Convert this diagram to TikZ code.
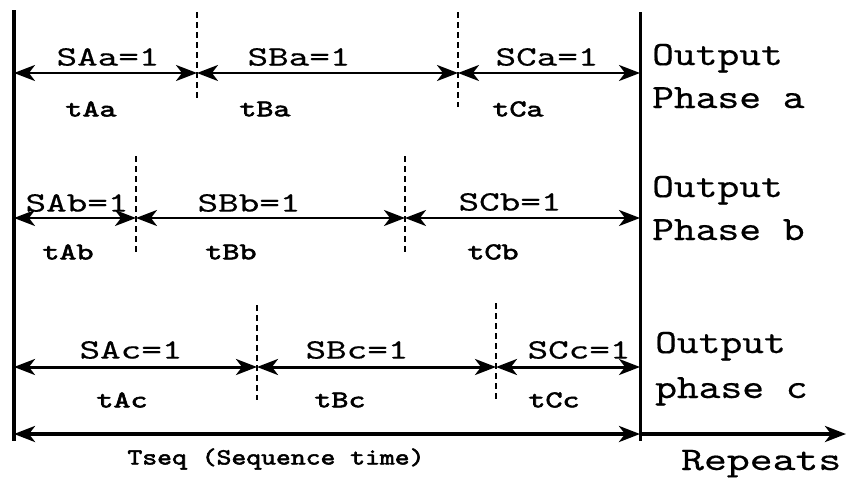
\documentclass[tikz,border=0pt]{standalone}
\usepackage{graphicx}
\usepackage{fontspec}
\newfontfamily\typefont[FakeBold=0.4]{lmmono10-regular.otf}
\newfontfamily\heavyfont[FakeBold=2.2]{lmmono10-regular.otf}
\usetikzlibrary{arrows.meta}
\newcommand\hs[2]{\scalebox{#1}[1]{#2}}
\newcommand\lab[1]{\hs{1.4}{#1}}
\newcommand\olab[1]{\hs{1.22}{#1}}
\newcommand\tlab[1]{\hs{1.35}{#1}}
\begin{document}
\begin{tikzpicture}[x=1pt,y=-1pt,
  labnode/.style={font=\fontsize{28}{28}\typefont, inner sep=0pt},
  tl/.style={font=\fontsize{24}{24}\heavyfont, inner sep=0pt},
  outlab/.style={font=\fontsize{34}{34}\typefont, inner sep=0pt, anchor=base west},
  dimarr/.style={line width=2.5pt, {Stealth[length=21pt,width=16pt,inset=6pt]}-{Stealth[length=21pt,width=16pt,inset=6pt]}},
  dashsep/.style={line width=1.6pt, dash pattern=on 6pt off 4pt},
  vbar/.style={line width=3.5pt}]
\fill[white] (0,0) rectangle (846,479);
\useasboundingbox (0,0) rectangle (846,479);

% vertical bars
\coordinate (Ltop) at (14,10);
\coordinate (Lbot) at (14,441);
\coordinate (Rtop) at (640,12);
\coordinate (Rbot) at (640,441);
\draw[vbar] (Ltop) -- (Lbot);
\draw[line width=3pt] (Rtop) -- (Rbot);

% row a
\coordinate (a0) at (14,73);
\coordinate (a1) at (197,73);
\coordinate (a2) at (458,73);
\coordinate (a3) at (640,73);
\coordinate (da1t) at (197,12); \coordinate (da1b) at (197,100);
\coordinate (da2t) at (458,12); \coordinate (da2b) at (458,107);
\draw[dashsep] (da1t) -- (da1b);
\draw[dashsep] (da2t) -- (da2b);
\draw[dimarr] (a0) -- (a1);
\draw[dimarr] (a1) -- (a2);
\draw[dimarr] (a2) -- (a3);
\node[labnode] (SAa) at (108,57) {\lab{SAa=1}};
\node[labnode] (SBa) at (299,57) {\lab{SBa=1}};
\node[labnode] (SCa) at (547,57) {\lab{SCa=1}};
\node[tl] (tAa) at (91,109) {\tlab{tAa}};
\node[tl] (tBa) at (265,109) {\tlab{tBa}};
\node[tl] (tCa) at (518,109) {\tlab{tCa}};
\node[outlab] (oa1) at (652,65) {\olab{Output}};
\node[outlab] (oa2) at (652,108) {\olab{Phase a}};

% row b
\coordinate (b0) at (14,218);
\coordinate (b1) at (136,218);
\coordinate (b2) at (405,218);
\coordinate (b3) at (640,218);
\coordinate (db1t) at (136,156); \coordinate (db1b) at (136,254);
\coordinate (db2t) at (405,156); \coordinate (db2b) at (405,254);
\draw[dashsep] (db1t) -- (db1b);
\draw[dashsep] (db2t) -- (db2b);
\draw[dimarr] (b0) -- (b1);
\draw[dimarr] (b1) -- (b2);
\draw[dimarr] (b2) -- (b3);
\node[labnode] (SAb) at (77,203) {\lab{SAb=1}};
\node[labnode] (SBb) at (249,203) {\lab{SBb=1}};
\node[labnode] (SCb) at (510,202) {\lab{SCb=1}};
\node[tl] (tAb) at (68,252) {\tlab{tAb}};
\node[tl] (tBb) at (231,252) {\tlab{tBb}};
\node[tl] (tCb) at (493,252) {\tlab{tCb}};
\node[outlab] (ob1) at (652,197) {\olab{Output}};
\node[outlab] (ob2) at (652,240) {\olab{Phase b}};

% row c
\coordinate (c0) at (14,367);
\coordinate (c1) at (257,367);
\coordinate (c2) at (496,367);
\coordinate (c3) at (640,367);
\coordinate (dc1t) at (257,305); \coordinate (dc1b) at (257,400);
\coordinate (dc2t) at (496,303); \coordinate (dc2b) at (496,400);
\draw[dashsep] (dc1t) -- (dc1b);
\draw[dashsep] (dc2t) -- (dc2b);
\draw[dimarr, line width=3pt] (c0) -- (c1);
\draw[dimarr, line width=3pt] (c1) -- (c2);
\draw[dimarr, line width=3pt] (c2) -- (c3);
\node[labnode] (SAc) at (131,350) {\lab{SAc=1}};
\node[labnode] (SBc) at (357,350) {\lab{SBc=1}};
\node[labnode] (SCc) at (579,350) {\lab{SCc=1}};
\node[tl] (tAc) at (122,400) {\tlab{tAc}};
\node[tl] (tBc) at (340,400) {\tlab{tBc}};
\node[tl] (tCc) at (554,400) {\tlab{tCc}};
\node[outlab] (oc1) at (655,353) {\olab{Output}};
\node[outlab] (oc2) at (655,398) {\olab{phase c}};

% bottom
\coordinate (s0) at (14,434);
\coordinate (s1) at (640,434);
\coordinate (s2) at (846,434);
\draw[dimarr, line width=3.5pt] (s0) -- (s1);
\draw[line width=3.5pt, -{Stealth[length=21pt,width=16pt,inset=6pt]}] (s1) -- (s2);
\node[tl, font=\fontsize{23}{23}\heavyfont] (tseq) at (276,459) {\hs{1.23}{Tseq (Sequence time)}};
\node[outlab, font=\fontsize{33}{33}\typefont] (rep) at (681,470) {\hs{1.32}{Repeats}};
\end{tikzpicture}
\end{document}
